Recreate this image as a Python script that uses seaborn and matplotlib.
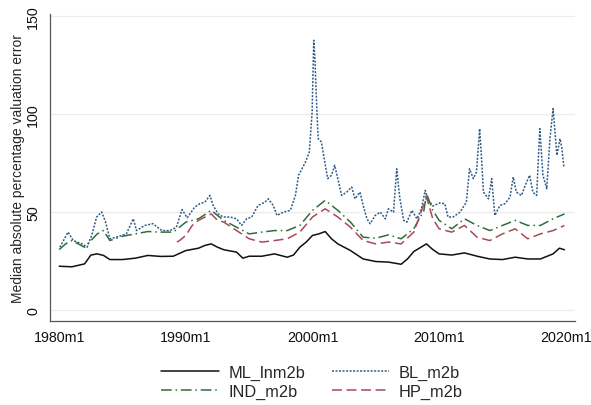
import pandas as pd
import matplotlib.pyplot as plt
import seaborn as sns
from matplotlib.ticker import FuncFormatter

# values (decimal years)
ml_year = [1980.0, 1981.0, 1982.0, 1982.5, 1983.0, 1983.5, 1984.0, 1985.0, 1986.0, 1987.0,
           1988.0, 1989.0, 1990.0, 1991.0, 1991.5, 1992.0, 1992.5, 1993.0, 1994.0, 1994.5,
           1995.0, 1996.0, 1997.0, 1998.0, 1998.5, 1999.0, 1999.5, 2000.0, 2000.5, 2001.0,
           2001.5, 2002.0, 2003.0, 2004.0, 2005.0, 2006.0, 2007.0, 2007.5, 2008.0, 2009.0,
           2009.5, 2010.0, 2011.0, 2012.0, 2013.0, 2014.0, 2015.0, 2016.0, 2017.0, 2018.0,
           2019.0, 2019.5, 2019.9]
ml_val = [22.3, 22.0, 23.5, 28.0, 28.6, 27.8, 25.7, 25.7, 26.4, 27.8,
          27.3, 27.4, 30.3, 31.5, 32.9, 33.7, 32.0, 30.7, 29.5, 26.4,
          27.4, 27.4, 28.6, 26.9, 28.0, 32.0, 34.6, 38.0, 38.8, 40.0,
          36.3, 33.7, 30.3, 26.0, 24.7, 24.4, 23.3, 26.0, 29.8, 33.7,
          30.8, 28.6, 28.0, 29.1, 27.4, 26.0, 25.7, 26.9, 26.0, 26.0,
          28.6, 31.5, 30.7]

bl_year = [1980.05, 1980.7, 1981.1, 1981.8, 1982.2, 1982.6, 1982.95, 1983.35, 1983.65, 1984.0,
           1984.5, 1985.3, 1985.85, 1986.1, 1986.75, 1987.4, 1988.1, 1988.75, 1989.25, 1989.7,
           1990.1, 1990.7, 1991.1, 1991.5, 1991.9, 1992.15, 1992.55, 1992.95, 1993.5, 1994.0,
           1994.4, 1994.8, 1995.2, 1995.7, 1996.25, 1996.5, 1996.9, 1997.2, 1997.7, 1998.25,
           1998.65, 1998.9, 1999.45, 1999.75, 1999.97, 2000.1, 2000.2, 2000.35, 2000.45, 2000.7,
           2000.97, 2001.2, 2001.5, 2001.75, 2002.0, 2002.3, 2002.7, 2003.1, 2003.35, 2003.75,
           2004.0, 2004.3, 2004.55, 2004.95, 2005.35, 2005.75, 2006.0, 2006.4, 2006.65, 2006.9,
           2007.2, 2007.45, 2007.85, 2008.25, 2008.6, 2008.9, 2009.1, 2009.5, 2010.05, 2010.45,
           2010.7, 2011.1, 2011.65, 2012.15, 2012.4, 2012.7, 2012.95, 2013.2, 2013.35, 2013.5,
           2013.9, 2014.15, 2014.4, 2014.8, 2015.2, 2015.6, 2015.85, 2016.1, 2016.5, 2016.9,
           2017.15, 2017.4, 2017.7, 2017.95, 2018.2, 2018.5, 2018.75, 2019.0, 2019.3, 2019.55,
           2019.7, 2019.85]
bl_val = [32.0, 39.7, 35.4, 33.7, 32.0, 38.8, 47.4, 50.0, 45.0, 36.3,
          37.1, 38.8, 46.5, 40.5, 43.1, 44.0, 40.5, 40.5, 42.2, 51.2,
          47.0, 52.5, 54.2, 55.0, 58.4, 53.3, 49.0, 47.4, 47.4, 46.5,
          43.1, 46.5, 47.4, 53.3, 55.0, 56.7, 53.3, 48.2, 49.9, 50.8,
          58.4, 68.7, 75.5, 80.6, 101.0, 137.6, 126.6, 101.0, 87.4, 85.7,
          75.5, 67.0, 68.7, 73.8, 67.0, 58.4, 60.1, 62.7, 56.7, 60.1,
          53.3, 46.5, 44.0, 48.2, 49.9, 46.5, 51.6, 49.9, 72.0, 56.7,
          45.7, 44.8, 50.8, 46.5, 51.6, 61.0, 56.7, 53.0, 54.6, 54.2,
          47.4, 47.4, 49.9, 55.0, 72.0, 67.0, 70.4, 92.5, 77.2, 60.1,
          56.7, 67.0, 48.2, 53.3, 54.2, 57.6, 67.8, 60.1, 58.4, 65.2,
          68.7, 60.1, 58.4, 92.5, 68.7, 61.8, 87.4, 102.7, 78.9, 87.4,
          82.3, 73.0]

ind_year = [1980.0, 1980.5, 1981.0, 1981.5, 1982.0, 1982.5, 1983.0, 1983.5, 1984.0, 1985.0,
            1986.0, 1987.0, 1988.0, 1989.0, 1990.0, 1991.0, 1992.0, 1992.5, 1993.0, 1994.0,
            1995.0, 1996.0, 1997.0, 1998.0, 1999.0, 2000.0, 2001.0, 2002.0, 2003.0, 2004.0,
            2005.0, 2006.0, 2007.0, 2008.0, 2008.8, 2009.0, 2009.5, 2010.0, 2011.0, 2012.0,
            2013.0, 2014.0, 2015.0, 2016.0, 2017.0, 2018.0, 2019.0, 2019.9]
ind_val = [30.8, 33.7, 35.4, 33.7, 32.0, 35.4, 38.8, 40.5, 35.4, 37.6,
           38.8, 40.0, 39.7, 39.7, 44.8, 46.5, 50.8, 48.2, 45.7, 42.2,
           38.8, 39.7, 40.5, 40.5, 43.1, 50.8, 55.9, 50.8, 44.8, 37.1,
           36.6, 38.3, 36.3, 41.4, 50.8, 59.3, 50.8, 45.7, 41.4, 46.5,
           43.1, 40.5, 43.1, 45.7, 43.1, 43.1, 46.5, 49.0]

hp_year = [1989.3, 1989.5, 1990.0, 1990.5, 1991.0, 1992.0, 1992.5, 1993.0, 1994.0, 1995.0,
           1996.0, 1997.0, 1998.0, 1999.0, 2000.0, 2001.0, 2002.0, 2003.0, 2004.0, 2005.0,
           2006.0, 2007.0, 2008.0, 2009.0, 2009.5, 2010.0, 2011.0, 2012.0, 2013.0, 2014.0,
           2015.0, 2016.0, 2017.0, 2018.0, 2019.0, 2019.9]
hp_val = [34.6, 35.4, 38.0, 43.1, 45.7, 49.0, 45.7, 44.8, 40.5, 36.3,
          34.6, 35.4, 36.3, 39.7, 47.4, 51.6, 47.4, 42.2, 35.4, 33.7,
          34.6, 33.7, 39.7, 57.6, 46.5, 41.4, 39.7, 43.1, 37.1, 35.4,
          38.8, 41.4, 36.3, 38.8, 40.5, 43.1]

series_names = ["ML_lnm2b", "BL_m2b", "IND_m2b", "HP_m2b"]
yticks = [0, 50, 100, 150]
xticks = [1980, 1990, 2000, 2010, 2020]

frames = []
for name, yrs, vals in zip(series_names, [ml_year, bl_year, ind_year, hp_year],
                           [ml_val, bl_val, ind_val, hp_val]):
    frames.append(pd.DataFrame({"year": yrs, "value": vals, "series": name}))
df = pd.concat(frames, ignore_index=True)

sns.set_style("white")
plt.rcParams["font.family"] = ["Liberation Sans", "DejaVu Sans"]

palette = {"ML_lnm2b": "#111111", "BL_m2b": "#2f5b86",
           "IND_m2b": "#2f6e3c", "HP_m2b": "#a8495a"}
dashes = {"ML_lnm2b": "", "BL_m2b": (1.3, 1.0),
          "IND_m2b": (7, 2.5, 1, 2.5), "HP_m2b": (6.5, 3)}

fig = plt.figure(figsize=(5.91, 4.06), dpi=100)
ax = fig.add_axes([50 / 591, 1 - 321.7 / 406, 525 / 591, (321.7 - 15) / 406])

sns.lineplot(data=df, x="year", y="value", hue="series", style="series",
             hue_order=series_names, style_order=series_names,
             palette=palette, dashes=dashes, estimator=None, sort=True,
             linewidth=1.1, ax=ax)

ax.set_xlim(1979.27, 2020.73)
ax.set_ylim(-5.5, 151)
ax.set_xticks(xticks)
ax.set_yticks(yticks)
ax.xaxis.set_major_formatter(FuncFormatter(lambda v, p: f"{int(v)}m1"))
ax.grid(axis="y", color="#ececec", linewidth=0.9)
ax.grid(axis="x", visible=False)
for side in ["top", "right"]:
    ax.spines[side].set_visible(False)
for side in ["left", "bottom"]:
    ax.spines[side].set_color("#555555")
    ax.spines[side].set_linewidth(0.9)
ax.tick_params(axis="both", direction="out", length=4, width=0.9, color="#555555",
               labelsize=10.3, labelcolor="#111111")
ax.tick_params(axis="x", pad=3)
ax.tick_params(axis="y", pad=3)
for lab in ax.get_yticklabels():
    lab.set_rotation(90)
    lab.set_va("center")
ax.set_xlabel("")
ax.set_ylabel("Median absolute percentage valuation error", fontsize=10, labelpad=1)

handles, labels = ax.get_legend_handles_labels()
ax.get_legend().remove()
lookup = dict(zip(labels, handles))
order = ["ML_lnm2b", "IND_m2b", "BL_m2b", "HP_m2b"]
fig.legend([lookup[k] for k in order], order, ncol=2, loc="center",
           bbox_to_anchor=(312 / 591, 1 - 383 / 406), frameon=False,
           fontsize=11.8, handlelength=3.5, handletextpad=0.6,
           columnspacing=1.6, labelspacing=0.25)

plt.savefig("out.png", dpi=100, facecolor="white")
